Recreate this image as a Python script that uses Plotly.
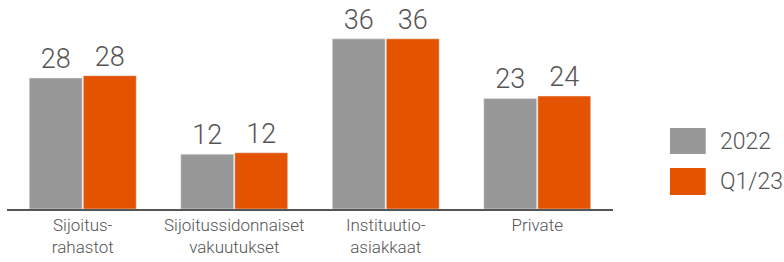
import plotly.graph_objects as go

categories = ["Sijoitus-<br>rahastot", "Sijoitussidonnaiset<br>vakuutukset",
              "Instituutio-<br>asiakkaat", "Private"]
series_names = ["2022", "Q1/23"]
values_2022 = [27.7, 11.6, 36.0, 23.4]
values_q123 = [28.2, 11.9, 36.0, 23.9]

GRAY = "#989898"
ORANGE = "#E35300"
TEXT = "#555555"
FONT = "Roboto, sans-serif"

fig = go.Figure()
for name, vals, col in [(series_names[0], values_2022, GRAY),
                        (series_names[1], values_q123, ORANGE)]:
    fig.add_trace(go.Bar(
        x=categories, y=vals, name=name, marker_color=col,
        text=[f"{v:.0f}" for v in vals], textposition="outside",
        textfont=dict(size=27, color=TEXT, family=FONT, weight=300),
        cliponaxis=False, showlegend=False,
    ))

# custom legend
leg = [(series_names[0], GRAY, 0.407, 0.276), (series_names[1], ORANGE, 0.206, 0.070)]
for name, col, y1, y0 in leg:
    fig.add_shape(type="rect", xref="paper", yref="paper",
                  x0=1.094, x1=1.153, y0=y0, y1=y1,
                  fillcolor=col, line_width=0)
    fig.add_annotation(xref="paper", yref="paper", x=1.173, y=(y0 + y1) / 2,
                       text=name, showarrow=False, xanchor="left", yanchor="middle",
                       font=dict(size=23, color=TEXT, family=FONT, weight=300))

fig.update_layout(
    width=784, height=262,
    margin=dict(l=7, r=171, t=10, b=53, autoexpand=False),
    paper_bgcolor="white", plot_bgcolor="white",
    barmode="group", bargap=0.287, bargroupgap=0.02,
    font=dict(family=FONT, color=TEXT, weight=300),
)
fig.update_xaxes(showline=True, linecolor="#555555", linewidth=1.5, automargin=False,
                 tickfont=dict(size=17, color=TEXT, family=FONT, weight=300), ticks="",
                 showgrid=False)
fig.update_yaxes(range=[0, 42.1], visible=False, showgrid=False, automargin=False)

fig.write_html("out.html", config={"displayModeBar": False},
               post_script="document.body.style.margin='0';")
